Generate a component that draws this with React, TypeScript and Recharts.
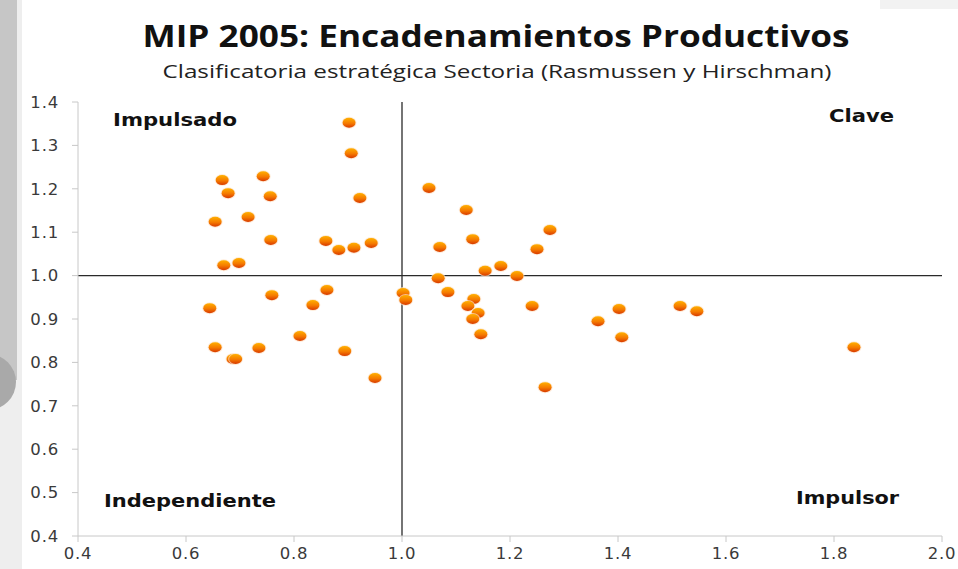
import React from "react";
import {
  ScatterChart,
  Scatter,
  XAxis,
  YAxis,
  ReferenceLine,
} from "recharts";

// Rasmussen-Hirschman linkages per sector
const dispersion = [
  0.902, 0.906, 0.667, 0.743, 0.678, 0.756, 0.922, 0.715, 0.654, 0.757,
  0.859, 0.883, 0.911, 0.943, 0.670, 0.698, 0.644, 0.759, 0.861, 0.835,
  0.654, 0.687, 0.692, 0.735, 0.811, 0.894, 0.950, 1.002, 1.007,
  1.050, 1.119, 1.274, 1.131, 1.070, 1.250, 1.183, 1.154, 1.213, 1.067,
  1.085, 1.133, 1.122, 1.241, 1.141, 1.131, 1.146, 1.265,
  1.402, 1.363, 1.407, 1.515, 1.546, 1.837,
];
const sensibilidad = [
  1.352, 1.282, 1.220, 1.229, 1.190, 1.183, 1.179, 1.135, 1.124, 1.082,
  1.080, 1.059, 1.064, 1.075, 1.024, 1.029, 0.925, 0.955, 0.967, 0.932,
  0.835, 0.808, 0.808, 0.833, 0.861, 0.826, 0.764, 0.960, 0.944,
  1.202, 1.151, 1.105, 1.084, 1.066, 1.061, 1.022, 1.011, 0.999, 0.994,
  0.962, 0.946, 0.930, 0.930, 0.914, 0.900, 0.865, 0.743,
  0.923, 0.895, 0.858, 0.930, 0.918, 0.835,
];
const xTicks = [0.4, 0.6, 0.8, 1.0, 1.2, 1.4, 1.6, 1.8, 2.0];
const yTicks = [0.4, 0.5, 0.6, 0.7, 0.8, 0.9, 1.0, 1.1, 1.2, 1.3, 1.4];

const data = dispersion.map((x, i) => ({ x, y: sensibilidad[i] }));

const tickStyle = { fontSize: 16.5, fill: "#3a3a3a", fontFamily: "DejaVu Sans", letterSpacing: 0.8 };

function Dot(props: { cx?: number; cy?: number }) {
  const { cx = 0, cy = 0 } = props;
  return (
    <g>
      <ellipse cx={cx} cy={cy} rx={7.5} ry={6} fill="#fde2c8" opacity={0.7} />
      <ellipse cx={cx} cy={cy} rx={6.5} ry={5} fill="url(#dotGrad)" />
    </g>
  );
}

function QuadLabel({ x, y, w, text }: { x: number; y: number; w: number; text: string }) {
  return (
    <text x={x} y={y} fontFamily="DejaVu Sans" fontWeight="bold" fontSize={18.5}
      textLength={w} lengthAdjust="spacingAndGlyphs" fill="#111">
      {text}
    </text>
  );
}

export default function App() {
  return (
    <div style={{ position: "absolute", left: 0, top: 0, width: 958, height: 569, background: "#fff", overflow: "hidden" }}>
      {/* slide decoration at the left edge */}
      <div style={{ position: "absolute", left: 0, top: 0, width: 22, height: 569, background: "#eeeeee" }} />
      <div style={{ position: "absolute", left: 0, top: 0, width: 17, height: 380, background: "#c6c6c6" }} />
      <div style={{ position: "absolute", left: -40, top: 354, width: 56, height: 56, borderRadius: "50%", background: "#a9a9a9" }} />
      <div style={{ position: "absolute", left: 880, top: 0, width: 78, height: 9, background: "#f2f2f2" }} />

      <svg width={958} height={95} style={{ position: "absolute", left: 0, top: 0 }}>
        <text x={496} y={47} textAnchor="middle" fontFamily="Open Sans" fontWeight="bold" fontSize={30}
          textLength={707} lengthAdjust="spacingAndGlyphs" fill="#111">
          MIP 2005: Encadenamientos Productivos
        </text>
        <text x={497} y={78} textAnchor="middle" fontFamily="Open Sans" fontSize={19}
          textLength={669} lengthAdjust="spacingAndGlyphs" fill="#222">
          Clasificatoria estratégica Sectoria (Rasmussen y Hirschman)
        </text>
      </svg>

      <div style={{ position: "absolute", left: 0, top: 0 }}>
        <ScatterChart width={958} height={569} margin={{ top: 102, right: 16, bottom: 0, left: 0 }}>
          <defs>
            <linearGradient id="dotGrad" x1="0" y1="0" x2="0" y2="1">
              <stop offset="0%" stopColor="#ffb000" />
              <stop offset="55%" stopColor="#f57a00" />
              <stop offset="100%" stopColor="#d83a00" />
            </linearGradient>
          </defs>
          <XAxis
            type="number"
            dataKey="x"
            domain={[0.4, 2.0]}
            ticks={xTicks}
            tickFormatter={(v: number) => v.toFixed(1)}
            tick={tickStyle}
            stroke="#c8c8c8"
            tickSize={6}
            tickMargin={5}
            height={33}
            interval={0}
          />
          <YAxis
            type="number"
            dataKey="y"
            domain={[0.4, 1.4]}
            ticks={yTicks}
            tickFormatter={(v: number) => v.toFixed(1)}
            tick={tickStyle}
            stroke="#c8c8c8"
            tickSize={6}
            tickMargin={13}
            width={78}
            interval={0}
          />
          <ReferenceLine x={1} stroke="#2a2a2a" strokeWidth={1.3} />
          <ReferenceLine y={1} stroke="#2a2a2a" strokeWidth={1.3} />
          <Scatter data={data} shape={<Dot />} isAnimationActive={false} />
        </ScatterChart>
      </div>

      <svg width={958} height={569} style={{ position: "absolute", left: 0, top: 0, pointerEvents: "none" }}>
        <QuadLabel x={113} y={126} w={124} text="Impulsado" />
        <QuadLabel x={829} y={122} w={65} text="Clave" />
        <QuadLabel x={104} y={507} w={172} text="Independiente" />
        <QuadLabel x={796} y={504} w={103} text="Impulsor" />
      </svg>
    </div>
  );
}
